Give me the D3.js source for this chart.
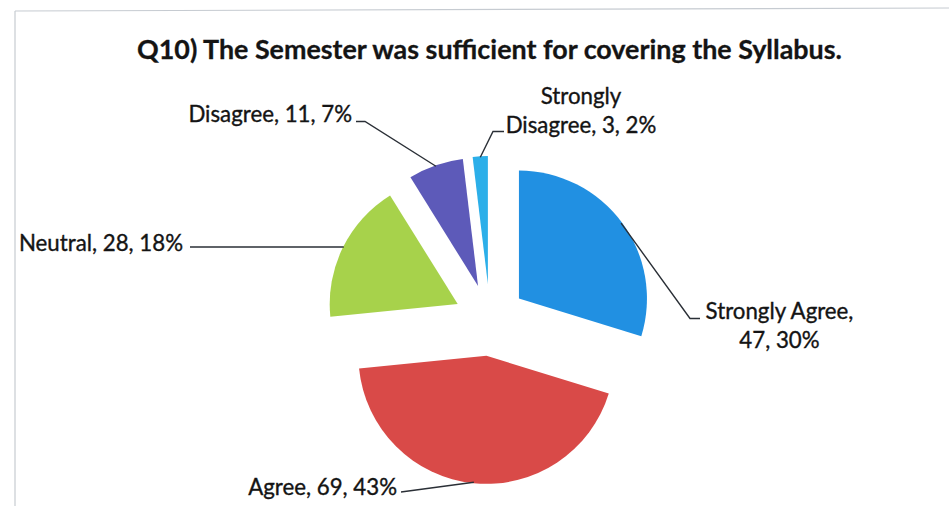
<!DOCTYPE html>
<html>
<head>
<meta charset="utf-8">
<script src="https://cdn.jsdelivr.net/npm/d3@7"></script>
<style>
  html, body { margin: 0; padding: 0; background: #ffffff; }
  svg { display: block; }
  text { font-family: Lato, "Open Sans", sans-serif; fill: #141414; }
</style>
</head>
<body>
<svg id="chart" width="949" height="506"></svg>
<script>
// ---- data ----
const title = "Q10) The Semester was sufficient for covering the Syllabus.";
const categories = ["Strongly Agree", "Agree", "Neutral", "Disagree", "Strongly Disagree"];
const counts = [47, 69, 28, 11, 3];
const percents = [30, 43, 18, 7, 2];

// ---- styles / layout ----
const colors = ["#2190e2", "#d94a48", "#a7d24b", "#5d5ab9", "#2cafe9"];
const W = 949, H = 506;
const cx = 490, cy = 320, R = 128, explode = 36;

const svg = d3.select("#chart");

// chart frame (light gray)
svg.append("line").attr("x1", 15).attr("y1", 11).attr("x2", W).attr("y2", 8)
  .attr("stroke", "#c6cbd1").attr("stroke-width", 1.2);
svg.append("line").attr("x1", 15).attr("y1", 11).attr("x2", 15).attr("y2", H)
  .attr("stroke", "#c6cbd1").attr("stroke-width", 1.2);

// helper: font size so that a string has a given width
function fitSize(str, weight, target) {
  const t = svg.append("text").attr("font-size", 100).attr("font-weight", weight).text(str);
  const w = t.node().getComputedTextLength();
  t.remove();
  return 100 * target / w;
}
const titleSize = fitSize(title, "bold", 705);
const labelSize = fitSize("Strongly Agree,", "normal", 148);

// title
svg.append("text")
  .attr("x", 489.5).attr("y", 59)
  .attr("text-anchor", "middle")
  .attr("font-weight", "bold")
  .attr("font-size", titleSize)
  .attr("stroke", "#141414").attr("stroke-width", 0.3)
  .text(title);

// pie
const pie = d3.pie().sort(null).value(d => d)(counts);
const arc = d3.arc().innerRadius(0).outerRadius(R);

function offset(d) {
  const m = (d.startAngle + d.endAngle) / 2;
  return [cx + explode * Math.sin(m), cy - explode * Math.cos(m)];
}
function edgePoint(d, rr) {
  const m = (d.startAngle + d.endAngle) / 2;
  const o = offset(d);
  return [o[0] + rr * Math.sin(m), o[1] - rr * Math.cos(m)];
}

svg.append("g").selectAll("path")
  .data(pie)
  .join("path")
  .attr("transform", d => `translate(${offset(d)})`)
  .attr("d", arc)
  .attr("fill", (d, i) => colors[i]);

// labels (positions are layout, text from data)
const labelLayout = [
  { lines: [`${categories[0]},`, `${counts[0]}, ${percents[0]}%`], x: 779.5, y: 319, anchor: "middle",
    bend: [[700, 318.5], [690, 318.5]] },
  { lines: [`${categories[1]}, ${counts[1]}, ${percents[1]}%`], x: 397, y: 495, anchor: "end",
    bend: [[401, 492]] },
  { lines: [`${categories[2]}, ${counts[2]}, ${percents[2]}%`], x: 183, y: 251, anchor: "end",
    bend: [[190, 247]] },
  { lines: [`${categories[3]}, ${counts[3]}, ${percents[3]}%`], x: 352, y: 122, anchor: "end",
    bend: [[356, 121.5], [365, 121.5]] },
  { lines: ["Strongly", `Disagree, ${counts[4]}, ${percents[4]}%`], x: 581, y: 104, anchor: "middle",
    bend: [[504, 131.5], [493, 131.5]] }
];

const lineGen = d3.line();
pie.forEach((d, i) => {
  const L = labelLayout[i];
  const pts = L.bend.slice();
  let end = edgePoint(d, R - 1);
  if (i === 2) end = [end[0], L.bend[0][1]];
  pts.push(end);
  svg.append("path")
    .attr("d", lineGen(pts))
    .attr("fill", "none")
    .attr("stroke", "#2a2f36")
    .attr("stroke-width", 1.4);

  const t = svg.append("text")
    .attr("x", L.x).attr("y", L.y)
    .attr("text-anchor", L.anchor)
    .attr("font-size", labelSize)
    .attr("stroke", "#141414").attr("stroke-width", 0.35);
  L.lines.forEach((s, k) => {
    t.append("tspan").attr("x", L.x).attr("dy", k === 0 ? 0 : 28.5).text(s);
  });
});
</script>
</body>
</html>
